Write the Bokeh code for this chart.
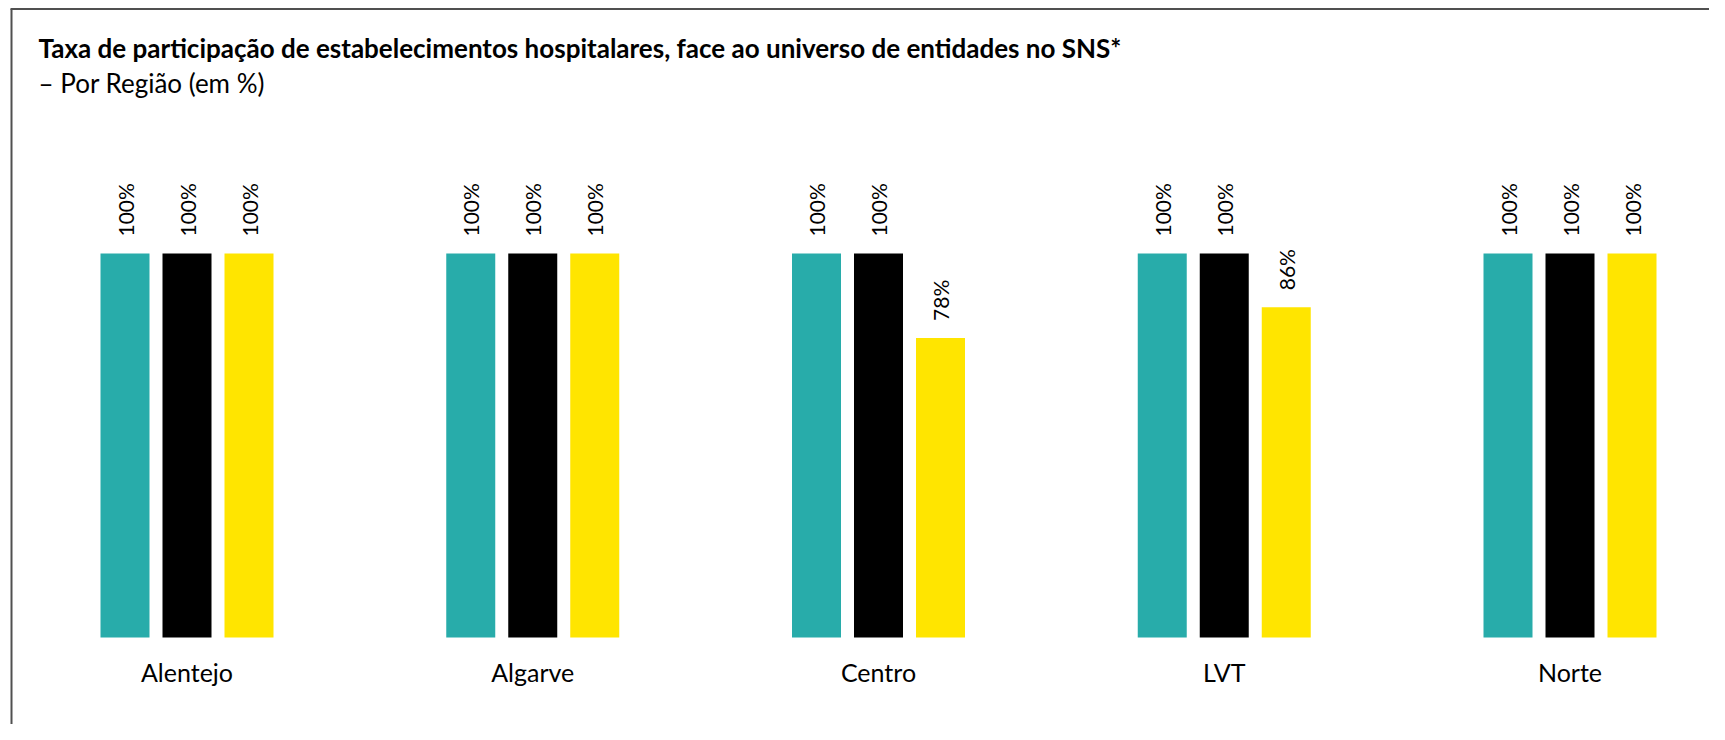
from bokeh.plotting import figure
from bokeh.models import ColumnDataSource, Label, Range1d
from bokeh.transform import dodge
from bokeh.core.properties import value
from bokeh.embed import file_html
from bokeh.resources import INLINE

# ---- data ----
regions = ["Alentejo", "Algarve", "Centro", "LVT", "Norte"]
serie_a = [100, 100, 100, 100, 100]
serie_b = [100, 100, 100, 100, 100]
serie_c = [100, 100, 78, 86, 100]
title_text = "Taxa de participação de estabelecimentos hospitalares, face ao universo de entidades no SNS*"
subtitle_text = "– Por Região (em %)"

# ---- style / layout ----
colors = ["#28ACAA", "#000000", "#FFE500"]
FONT = "Lato"
W, H = 1709, 724
base_px = 637.0          # pixel row of the 0 % baseline
group_px = 345.75
first_center_px = 186.5
bar_px = 49.0
step_px = 62.0
val_px = 3.84            # pixels per percentage point
label_gap_px = 17.0
cat_label_px = 671.0     # pixel row of category label centres

x_start = -first_center_px / group_px
x_end = (W - first_center_px) / group_px
y_start = -(H - base_px) / val_px
y_end = base_px / val_px


def fx(px):
    return x_start + px / group_px


def fy(py):
    return (base_px - py) / val_px


p = figure(width=W, height=H, output_backend="svg", toolbar_location=None,
           x_range=Range1d(x_start, x_end), y_range=Range1d(y_start, y_end),
           x_axis_location=None, y_axis_location=None,
           min_border_left=0, min_border_right=0,
           min_border_top=0, min_border_bottom=0)
p.outline_line_color = None
p.grid.visible = False
p.background_fill_color = "white"
p.border_fill_color = "white"

pad = label_gap_px / val_px
n = len(regions)
src = ColumnDataSource(dict(
    x=list(range(n)),
    a=serie_a, b=serie_b, c=serie_c,
    a_lab=[v + pad for v in serie_a],
    b_lab=[v + pad for v in serie_b],
    c_lab=[v + pad for v in serie_c],
    a_txt=[f"{v}%" for v in serie_a],
    b_txt=[f"{v}%" for v in serie_b],
    c_txt=[f"{v}%" for v in serie_c],
    cat=regions,
    cat_y=[fy(cat_label_px)] * n,
))

off = step_px / group_px
bw = bar_px / group_px
for key, o, col in (("a", -off, colors[0]), ("b", 0.0, colors[1]), ("c", off, colors[2])):
    xx = dodge("x", o, range=p.x_range)
    p.vbar(x=xx, top=key, bottom=0, width=bw, source=src,
           fill_color=col, line_color=None)
    p.text(x=xx, y=key + "_lab", text=key + "_txt", source=src, angle=1.5707963,
           text_align="left", text_baseline="middle",
           text_font=value(FONT), text_font_size="21px", text_color="#000000")

# category labels
p.text(x="x", y="cat_y", text="cat", source=src, text_align="center",
       text_baseline="middle", text_font=value(FONT), text_font_size="25px",
       text_color="#000000")

# title and subtitle
p.add_layout(Label(x=fx(38), y=fy(47), text=title_text, text_font=FONT,
                   text_font_size="26px", text_font_style="bold",
                   text_baseline="alphabetic", text_color="#000000"))
p.add_layout(Label(x=fx(38), y=fy(82), text=subtitle_text, text_font=FONT,
                   text_font_size="26px", text_baseline="alphabetic",
                   text_color="#000000"))

# box border (top and left edges visible)
p.segment(x0=[fx(10), fx(11)], y0=[fy(8.5), fy(8.5)],
          x1=[x_end, fx(11)], y1=[fy(8.5), y_start],
          line_color="#505050", line_width=2)

open("out.html", "w").write(file_html(p, INLINE))
